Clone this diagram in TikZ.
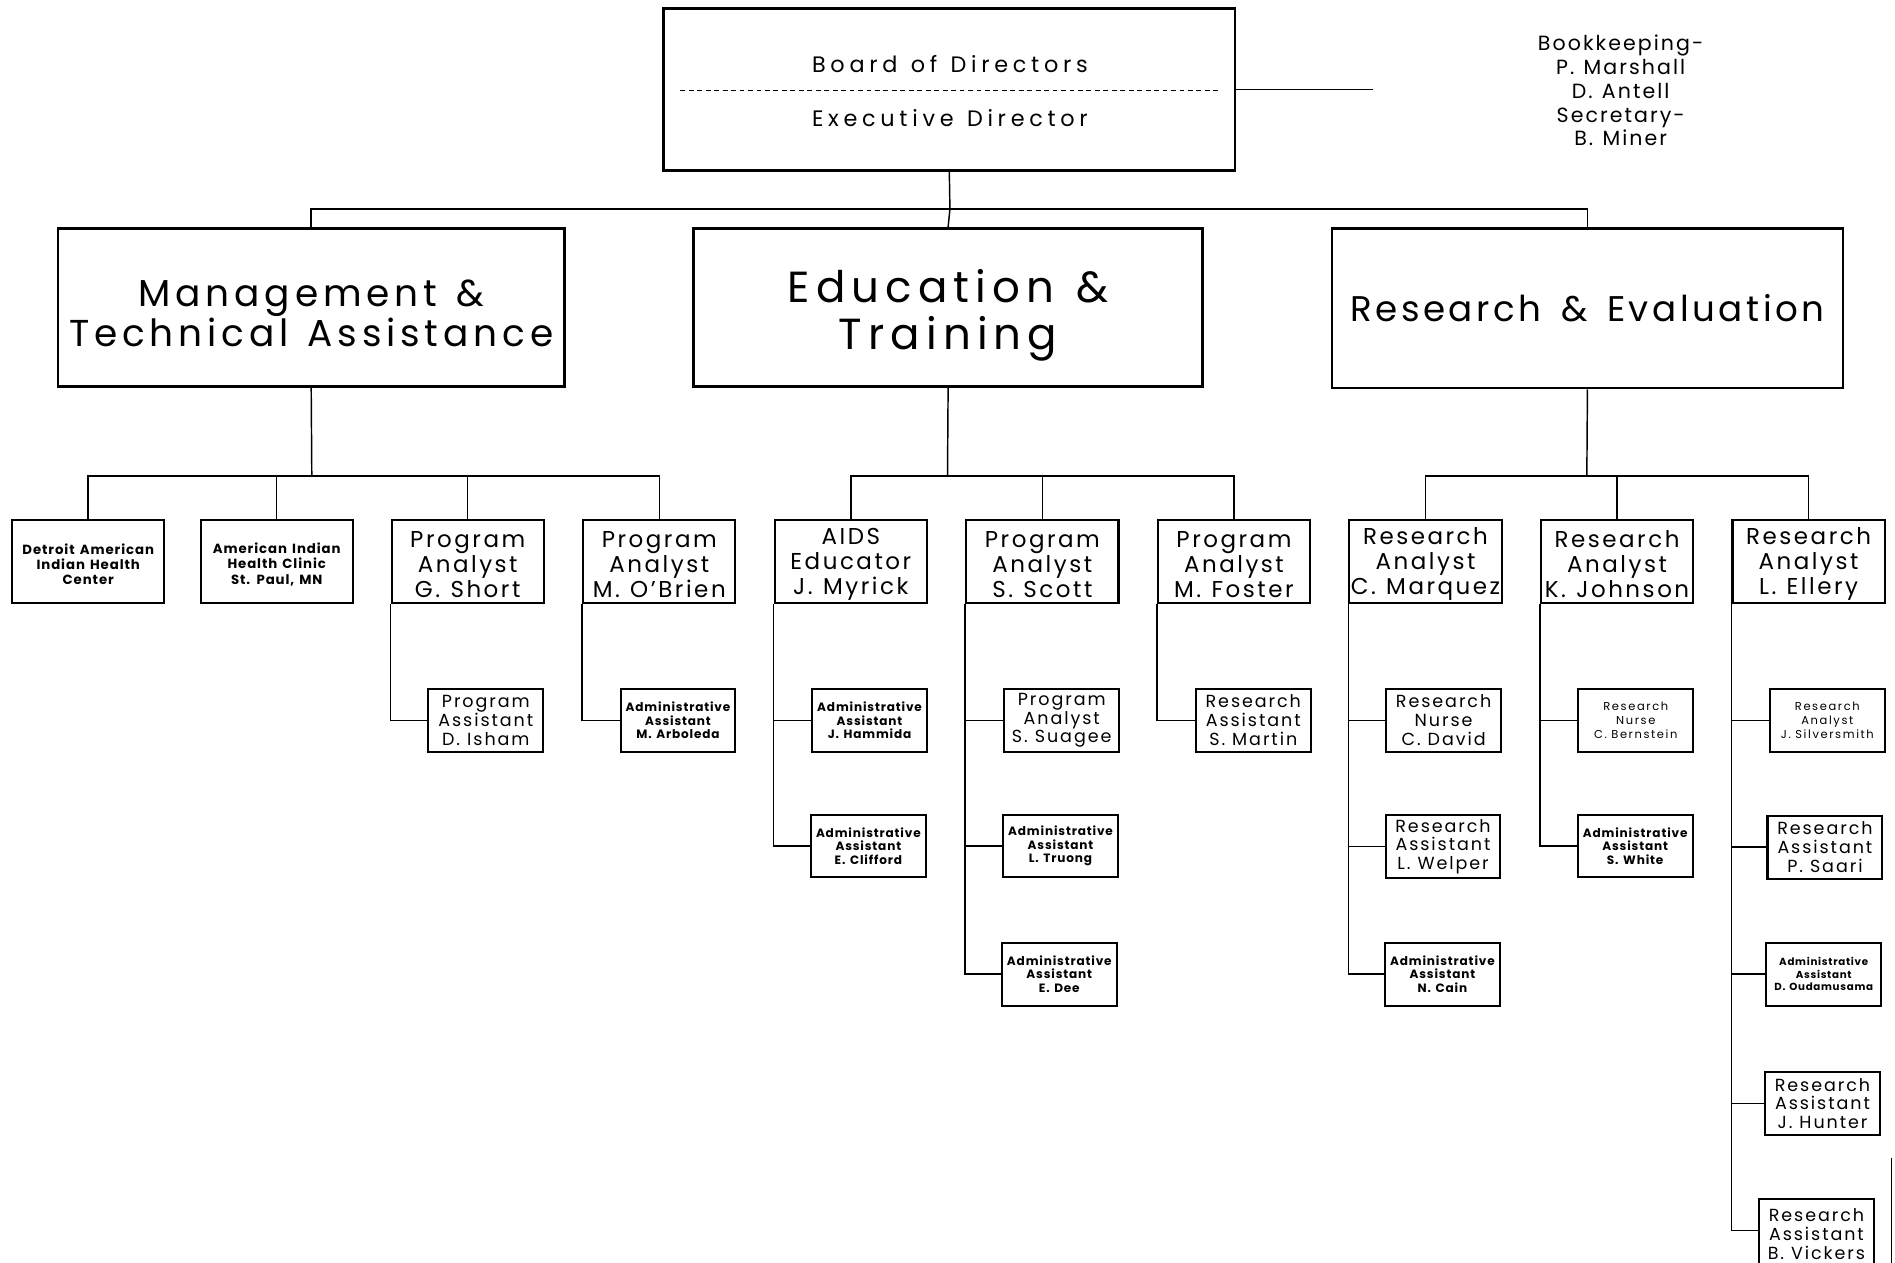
\documentclass[tikz,border=0pt]{standalone}
\usepackage{fontspec}
\setmainfont{Poppins}
\newcommand\fTop{\fontsize{18.5}{20}\selectfont\addfontfeatures{LetterSpace=21}\spaceskip=0.6em\relax}
\newcommand\fMgt{\fontsize{31}{33}\selectfont\addfontfeatures{LetterSpace=13}\spaceskip=0.5em\relax}
\newcommand\fEdu{\fontsize{36}{39}\selectfont\addfontfeatures{LetterSpace=14}\spaceskip=0.5em\relax}
\newcommand\fRes{\fontsize{29.5}{33}\selectfont\addfontfeatures{LetterSpace=10}\spaceskip=0.55em\relax}
\newcommand\fLtwo{\fontsize{19}{20.5}\selectfont\addfontfeatures{LetterSpace=11}\spaceskip=0.45em\relax}
\newcommand\fDet{\bfseries\fontsize{11}{12.5}\selectfont\addfontfeatures{LetterSpace=7}\spaceskip=0.38em\relax}
\newcommand\fMed{\fontsize{14.5}{15.5}\selectfont\addfontfeatures{LetterSpace=11}\spaceskip=0.4em\relax}
\newcommand\fSm{\bfseries\fontsize{10}{11.2}\selectfont\addfontfeatures{LetterSpace=7}\spaceskip=0.38em\relax}
\newcommand\fXs{\bfseries\fontsize{8.5}{10.5}\selectfont\addfontfeatures{LetterSpace=7}\spaceskip=0.38em\relax}
\newcommand\fTiny{\fontsize{9.5}{11.5}\selectfont\addfontfeatures{LetterSpace=14}\spaceskip=0.38em\relax}
\newcommand\fBook{\fontsize{17}{19.7}\selectfont\addfontfeatures{LetterSpace=10}\spaceskip=0.45em\relax}
\newcommand\dnA{\rule{0pt}{18.5pt}}
\newcommand\dnB{\rule{0pt}{14pt}}
\begin{document}
\begin{tikzpicture}[x=1pt,y=-1pt,
  box/.style={draw,line width=1.7pt,inner sep=0pt,align=center},
  bigbox/.style={box,line width=2.2pt},
  ltwo/.style={box,minimum width=126pt,minimum height=69pt,font=\fLtwo},
  lthree/.style={box,minimum width=95pt,minimum height=52pt,font=\fMed},
  conn/.style={line width=1.2pt},
  txt/.style={inner sep=0pt,align=center}]
\clip (0,0) rectangle (1568,1045);
\fill[white] (0,0) rectangle (1568,1045);
% top
\node[bigbox,minimum width=473pt,minimum height=134pt] (top) at (785.5,74) {};
\node[txt,font=\fTop] (bod) at (786,53) {Board of Directors};
\node[txt,font=\fTop] (ed) at (786,98) {Executive Director};
\coordinate (dl) at (563,75);
\coordinate (dr) at (1008,75);
\draw[line width=1.2pt,dash pattern=on 4pt off 3pt] (dl) -- (dr);
\coordinate (tr) at (1136,74);
\draw[conn] (top.east) -- (tr);
\node[txt,font=\fBook] (bk) at (1341,75) {Bookkeeping-\\P. Marshall\\D. Antell\\Secretary-\\B. Miner};
% level 1
\node[bigbox,minimum width=419pt,minimum height=131pt,font=\fMgt] (mta) at (257.5,254.5) {\rule{0pt}{31pt}Management \&\\Technical Assistance};
\node[bigbox,minimum width=421pt,minimum height=131pt,font=\fEdu] (edu) at (784.5,254.5) {\rule{0pt}{40pt}Education \&\\Training};
\node[bigbox,minimum width=423pt,minimum height=132pt,font=\fRes] (res) at (1313.5,255) {Research \& Evaluation};
\coordinate (bus) at (786,173);
\draw[conn] (top.south) -- (bus);
\draw[conn] (mta.north) -- (mta.north |- bus) -- (res.north |- bus) -- (res.north);
\draw[conn] (bus) -- (edu.north);
% level 2
\node[ltwo,font=\fDet] (det) at (73,464.5) {\dnB Detroit American\\Indian Health\\Center};
\node[ltwo,font=\fDet] (ami) at (229,464.5) {\dnB American Indian\\Health Clinic\\St. Paul, MN};
\node[ltwo] (sho) at (387,464.5) {\dnA Program\\Analyst\\G. Short};
\node[ltwo] (obr) at (545.5,464.5) {\dnA Program\\Analyst\\M. O'Brien};
\node[ltwo] (myr) at (704,464.5) {\dnA AIDS\\Educator\\J. Myrick};
\node[ltwo] (sco) at (862.5,464.5) {\dnA Program\\Analyst\\S. Scott};
\node[ltwo] (fos) at (1021,464.5) {\dnA Program\\Analyst\\M. Foster};
\node[ltwo] (mar) at (1179.5,464.5) {\dnA Research\\Analyst\\C. Marquez};
\node[ltwo] (joh) at (1338,464.5) {\dnA Research\\Analyst\\K. Johnson};
\node[ltwo] (ell) at (1496.5,464.5) {\dnA Research\\Analyst\\L. Ellery};
\coordinate (mbus) at (258,394);
\coordinate (ebus) at (784,394);
\coordinate (rbus) at (1313,394);
\draw[conn] (mta.south) -- (mbus);
\draw[conn] (det.north) -- (det.north |- mbus) -- (obr.north |- mbus) -- (obr.north);
\draw[conn] (ami.north) -- (ami.north |- mbus);
\draw[conn] (sho.north) -- (sho.north |- mbus);
\draw[conn] (edu.south) -- (ebus);
\draw[conn] (myr.north) -- (myr.north |- ebus) -- (fos.north |- ebus) -- (fos.north);
\draw[conn] (sco.north) -- (sco.north |- ebus);
\draw[conn] (res.south) -- (rbus);
\draw[conn] (mar.north) -- (mar.north |- rbus) -- (ell.north |- rbus) -- (ell.north);
\draw[conn] (joh.north) -- (joh.north |- rbus);
% level 3
\node[lthree] (ish) at (402,596) {Program\\Assistant\\D. Isham};
\node[lthree,font=\fSm] (arb) at (561,596) {Administrative\\Assistant\\M. Arboleda};
\node[lthree,font=\fSm] (ham) at (719.5,596) {Administrative\\Assistant\\J. Hammida};
\node[lthree,font=\fSm] (cli) at (718.5,700) {Administrative\\Assistant\\E. Clifford};
\node[lthree] (sua) at (878.5,596) {Program\\Analyst\\S. Suagee};
\node[lthree,font=\fSm] (tru) at (877.5,700) {Administrative\\Assistant\\L. Truong};
\node[lthree,font=\fSm] (dee) at (876.5,806) {Administrative\\Assistant\\E. Dee};
\node[lthree] (mtn) at (1037,596) {Research\\Assistant\\S. Martin};
\node[lthree] (dav) at (1194.5,596) {Research\\Nurse\\C. David};
\node[lthree] (wel) at (1194,700.5) {Research\\Assistant\\L. Welper};
\node[lthree,font=\fSm] (cai) at (1193.5,806) {Administrative\\Assistant\\N. Cain};
\node[lthree,font=\fTiny] (ber) at (1353.5,596) {Research\\Nurse\\C. Bernstein};
\node[lthree,font=\fSm] (whi) at (1353,700) {Administrative\\Assistant\\S. White};
\node[lthree,font=\fTiny] (sil) at (1512,596) {Research\\Analyst\\J. Silversmith};
\node[lthree] (saa) at (1510,701) {Research\\Assistant\\P. Saari};
\node[lthree,font=\fXs] (oud) at (1509,806) {Administrative\\Assistant\\D. Oudamusama};
\node[lthree] (hun) at (1508,913) {Research\\Assistant\\J. Hunter};
\node[lthree,minimum height=58pt] (vic) at (1503,1021) {Research\\Assistant\\B. Vickers};
\draw[conn] (sho.south west) |- (ish.west);
\draw[conn] (obr.south west) |- (arb.west);
\draw[conn] (myr.south west) |- (cli.west);
\draw[conn] (myr.south west |- ham.west) -- (ham.west);
\draw[conn] (sco.south west) |- (dee.west);
\draw[conn] (sco.south west |- sua.west) -- (sua.west);
\draw[conn] (sco.south west |- tru.west) -- (tru.west);
\draw[conn] (fos.south west) |- (mtn.west);
\draw[conn] (mar.south west) |- (cai.west);
\draw[conn] (mar.south west |- dav.west) -- (dav.west);
\draw[conn] (mar.south west |- wel.west) -- (wel.west);
\draw[conn] (joh.south west) |- (whi.west);
\draw[conn] (joh.south west |- ber.west) -- (ber.west);
\coordinate (vst) at (1503,1018);
\draw[conn] (ell.south west) |- (vst -| vic.west);
\draw[conn] (ell.south west |- sil.west) -- (sil.west);
\draw[conn] (ell.south west |- saa.west) -- (saa.west);
\draw[conn] (ell.south west |- oud.west) -- (oud.west);
\draw[conn] (ell.south west |- hun.west) -- (hun.west);
% edge mark at right
\coordinate (ea) at (1565,958);
\coordinate (eb) at (1565,1045);
\draw[conn] (ea) -- (eb);
\end{tikzpicture}
\end{document}
